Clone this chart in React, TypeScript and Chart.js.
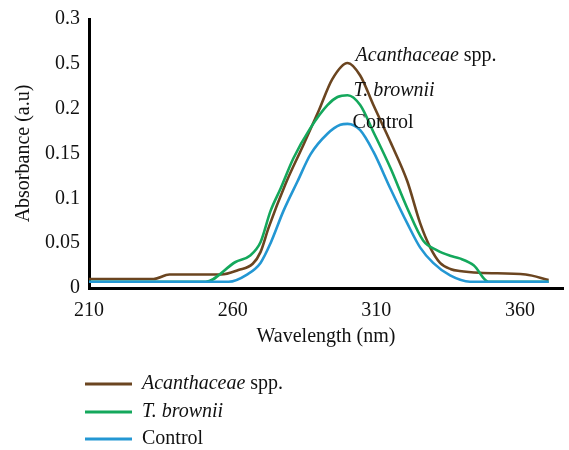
import React, { useEffect, useRef } from "react";
import { Chart, registerables } from "chart.js";

Chart.register(...registerables);

const seriesNames = ["Acanthaceae spp.", "T. brownii", "Control"];

const wlAcanthaceae = [210, 232.5, 238, 256, 262, 267, 269.7, 272.5, 278.4, 284.7, 290, 294.7, 300, 304.4, 309, 314.9, 320.8, 325.3, 328.8, 332.2, 336, 339, 346, 362, 370];
const absAcanthaceae = [0.01, 0.01, 0.015, 0.015, 0.02, 0.027, 0.04, 0.067, 0.116, 0.16, 0.198, 0.233, 0.251, 0.237, 0.204, 0.163, 0.119, 0.072, 0.045, 0.028, 0.021, 0.019, 0.017, 0.015, 0.009];

const wlBrownii = [210, 250.6, 261, 266, 269.7, 273.2, 276.7, 281.2, 287, 293, 296.5, 300, 304.4, 309, 314.9, 320.8, 326.3, 331.2, 335.7, 339, 344, 349, 370];
const absBrownii = [0.007, 0.007, 0.029, 0.036, 0.051, 0.086, 0.111, 0.145, 0.178, 0.204, 0.213, 0.215, 0.204, 0.174, 0.134, 0.089, 0.053, 0.042, 0.036, 0.033, 0.025, 0.007, 0.007];

const wlControl = [210, 258.6, 265, 269.7, 273.2, 277.7, 282.6, 287.1, 293, 297.5, 300, 304.4, 309, 314.9, 320.8, 325.3, 329.8, 335.7, 342.6, 370];
const absControl = [0.007, 0.007, 0.015, 0.028, 0.05, 0.086, 0.119, 0.149, 0.172, 0.182, 0.183, 0.176, 0.152, 0.111, 0.072, 0.045, 0.028, 0.014, 0.007, 0.007];

const xTicks = [210, 260, 310, 360];
const yTickLabels = ["0", "0.05", "0.1", "0.15", "0.2", "0.5", "0.3"];

const colors = ["#6b4520", "#14a85c", "#2397d3"];
const FONT = "'Liberation Serif', 'Times New Roman', serif";
const FS = 20;

function toPoints(xs: number[], ys: number[]) {
  return xs.map((x, i) => ({ x, y: ys[i] }));
}

function drawName(ctx: CanvasRenderingContext2D, name: string, x: number, y: number, size: number) {
  const parts: { t: string; italic: boolean }[] = [];
  if (name.endsWith(" spp.")) {
    parts.push({ t: name.slice(0, -5), italic: true });
    parts.push({ t: " spp.", italic: false });
  } else if (name === "Control") {
    parts.push({ t: name, italic: false });
  } else {
    parts.push({ t: name, italic: true });
  }
  let cx = x;
  for (const p of parts) {
    ctx.font = `${p.italic ? "italic " : ""}${size}px ${FONT}`;
    ctx.fillText(p.t, cx, y);
    cx += ctx.measureText(p.t).width;
  }
}

const labelPlugin = {
  id: "peakLabels",
  afterDatasetsDraw(chart: any) {
    const { ctx, scales } = chart;
    const peaks = [
      { v: Math.max(...absAcanthaceae), dx: 8, dy: -7 },
      { v: Math.max(...absBrownii), dx: 6, dy: -4 },
      { v: Math.max(...absControl), dx: 5, dy: -1 },
    ];
    ctx.save();
    ctx.fillStyle = "#111";
    ctx.textBaseline = "middle";
    ctx.textAlign = "left";
    peaks.forEach((p, i) => {
      const px = scales.x.getPixelForValue(300) + p.dx;
      const py = scales.y.getPixelForValue(p.v) + p.dy;
      drawName(ctx, seriesNames[i], px, py, FS);
    });
    ctx.restore();
  },
  afterDraw(chart: any) {
    const { ctx } = chart;
    ctx.save();
    ctx.textBaseline = "middle";
    ctx.textAlign = "left";
    const rows = [384, 412, 439];
    seriesNames.forEach((n, i) => {
      ctx.strokeStyle = colors[i];
      ctx.lineWidth = 3;
      ctx.beginPath();
      ctx.moveTo(85, rows[i]);
      ctx.lineTo(132, rows[i]);
      ctx.stroke();
      ctx.fillStyle = "#111";
      drawName(ctx, n, 142, rows[i], FS);
    });
    ctx.restore();
  },
};

export default function App() {
  const ref = useRef<HTMLCanvasElement>(null);
  useEffect(() => {
    if (!ref.current) return;
    const data = [
      toPoints(wlAcanthaceae, absAcanthaceae),
      toPoints(wlBrownii, absBrownii),
      toPoints(wlControl, absControl),
    ];
    const order = [2, 1, 0];
    const chart = new Chart(ref.current, {
      type: "line",
      data: {
        datasets: order.map((i) => ({
          label: seriesNames[i],
          data: data[i],
          borderColor: colors[i],
          backgroundColor: colors[i],
          borderWidth: 2.6,
          pointRadius: 0,
          cubicInterpolationMode: "monotone" as const,
          fill: false,
        })),
      },
      options: {
        animation: false,
        responsive: false,
        layout: { padding: { left: 7, right: 6, top: 13, bottom: 103 } },
        plugins: { legend: { display: false }, tooltip: { enabled: false } },
        scales: {
          x: {
            type: "linear",
            min: 210,
            max: 375,
            grid: { display: false, drawTicks: false, tickLength: 0 },
            border: { display: true, color: "#000", width: 3 },
            afterBuildTicks: (scale: any) => {
              scale.ticks = xTicks.map((v) => ({ value: v }));
            },
            ticks: {
              color: "#111",
              font: { family: FONT, size: FS, lineHeight: 1.0 },
              padding: 13,
              maxRotation: 0,
              callback: (v: any) => String(v),
            },
            title: {
              display: true,
              text: "Wavelength (nm)",
              color: "#111",
              font: { family: FONT, size: FS, lineHeight: 1.0 },
              padding: { top: 0, bottom: 0 },
            },
            afterFit: (scale: any) => {
              scale.height = 59;
            },
          },
          y: {
            min: 0,
            max: 0.3,
            grid: { display: false, drawTicks: false, tickLength: 0 },
            border: { display: true, color: "#000", width: 3 },
            ticks: {
              stepSize: 0.05,
              color: "#111",
              font: { family: FONT, size: FS, lineHeight: 1.0 },
              padding: 9,
              callback: (_v: any, idx: number) => yTickLabels[idx],
            },
            title: {
              display: true,
              text: "Absorbance (a.u)",
              color: "#111",
              font: { family: FONT, size: FS },
              padding: { top: 5, bottom: 4 },
            },
            afterFit: (scale: any) => {
              scale.width = 82;
            },
          },
        },
      },
      plugins: [labelPlugin],
    });
    return () => chart.destroy();
  }, []);
  return (
    <div style={{ position: "absolute", left: 0, top: 0, width: 569, height: 450, background: "#fff" }}>
      <canvas ref={ref} width={569} height={450} style={{ display: "block" }} />
    </div>
  );
}
